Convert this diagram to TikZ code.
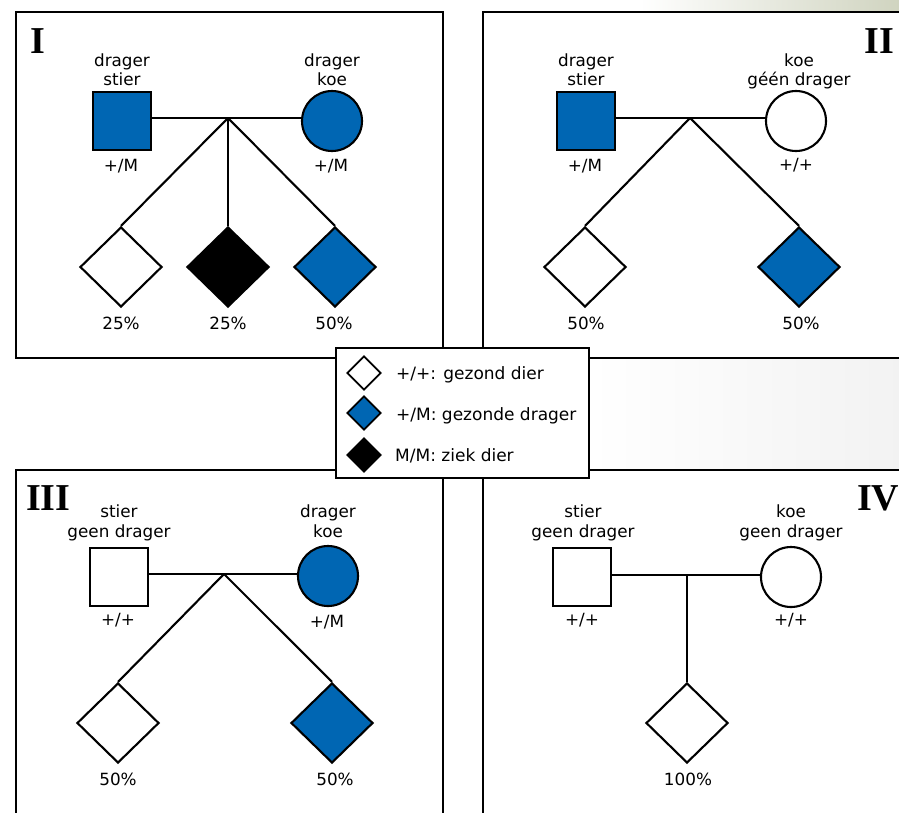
\documentclass[tikz,border=0pt]{standalone}
\usepackage{fontspec}
\usetikzlibrary{shapes.geometric}
\newfontfamily\dvsans{DejaVu Sans}
\newfontfamily\numserif{Liberation Serif}
\definecolor{cblue}{RGB}{0,102,179}
\definecolor{bgtint}{RGB}{208,212,192}
\begin{document}
\begin{tikzpicture}[x=1pt,y=-1pt,
  panel/.style={draw, line width=2.4pt},
  sq/.style={draw, rectangle, line width=2.1pt, minimum size=58pt, inner sep=0pt},
  circ/.style={draw, circle, line width=2.1pt, minimum size=60pt, inner sep=0pt},
  dia/.style={draw, diamond, line width=2.1pt, minimum width=82pt, minimum height=80pt, inner sep=0pt},
  ldia/.style={draw, diamond, line width=1.8pt, minimum width=34pt, minimum height=34pt, inner sep=0pt},
  link/.style={line width=2.1pt},
  lbl/.style={anchor=base, inner sep=0pt, font=\dvsans\fontsize{16.8}{19}\selectfont},
  legtxt/.style={anchor=base west, inner sep=0pt, font=\dvsans\fontsize{17}{20}\selectfont},
  roman/.style={inner sep=0pt, font=\numserif\bfseries\fontsize{38}{40}\selectfont}
]
\useasboundingbox (0,0) rectangle (899,812);
\clip (0,0) rectangle (899,812);
\fill[white] (0,0) rectangle (899,812);
\shade[left color=white, right color=bgtint] (640,0) rectangle (899,12);
\shade[left color=white, right color=black!5] (589,359) rectangle (899,469);

% panels
\draw[panel] (16,12) rectangle (443,358);
\draw[panel] (483,12) rectangle (915,358);
\draw[panel] (16,470) rectangle (443,830);
\draw[panel] (483,470) rectangle (915,830);

% ---------- Panel I ----------
\node[roman, anchor=base west] (nI) at (30,53) {I};
\node[sq, fill=cblue] (s1) at (122,121) {};
\node[circ, fill=cblue] (c1) at (332,121) {};
\coordinate (j1) at (228,118);
\draw[link] (s1.east |- j1) -- (c1.west |- j1);
\node[dia, fill=white] (d1a) at (121,267) {};
\node[dia, fill=black] (d1b) at (228,267) {};
\node[dia, fill=cblue] (d1c) at (335,267) {};
\draw[link] (j1) -- (d1a.north);
\draw[link] (j1) -- (d1b.north);
\draw[link] (j1) -- (d1c.north);
\node[lbl] (t1a) at (122,66.5) {drager};
\node[lbl] (t1b) at (122,85) {stier};
\node[lbl] (t1c) at (332,66.5) {drager};
\node[lbl] (t1d) at (332,85) {koe};
\node[lbl] (g1a) at (121,171) {+/M};
\node[lbl] (g1b) at (331,171) {+/M};
\node[lbl] (p1a) at (121,329) {25\%};
\node[lbl] (p1b) at (228,329) {25\%};
\node[lbl] (p1c) at (334,329) {50\%};

% ---------- Panel II ----------
\node[roman, anchor=base east] (nII) at (894,53) {II};
\node[sq, fill=cblue] (s2) at (586,121) {};
\node[circ, fill=white] (c2) at (796,121) {};
\coordinate (j2) at (690,118);
\draw[link] (s2.east |- j2) -- (c2.west |- j2);
\node[dia, fill=white] (d2a) at (585,267) {};
\node[dia, fill=cblue] (d2b) at (799,267) {};
\draw[link] (j2) -- (d2a.north);
\draw[link] (j2) -- (d2b.north);
\node[lbl] (t2a) at (586,66.5) {drager};
\node[lbl] (t2b) at (586,85) {stier};
\node[lbl] (t2c) at (799,66.5) {koe};
\node[lbl] (t2d) at (799,85) {géén drager};
\node[lbl] (g2a) at (585,171) {+/M};
\node[lbl] (g2b) at (796,170) {+/+};
\node[lbl] (p2a) at (586,329) {50\%};
\node[lbl] (p2b) at (801,329) {50\%};

% ---------- Panel III ----------
\node[roman, anchor=base west] (nIII) at (26,510) {III};
\node[sq, fill=white] (s3) at (119,577) {};
\node[circ, fill=cblue] (c3) at (328,576) {};
\coordinate (j3) at (224,574);
\draw[link] (s3.east |- j3) -- (c3.west |- j3);
\node[dia, fill=white] (d3a) at (118,723) {};
\node[dia, fill=cblue] (d3b) at (332,723) {};
\draw[link] (j3) -- (d3a.north);
\draw[link] (j3) -- (d3b.north);
\node[lbl] (t3a) at (119,517) {stier};
\node[lbl] (t3b) at (119,537) {geen drager};
\node[lbl] (t3c) at (328,517) {drager};
\node[lbl] (t3d) at (328,537) {koe};
\node[lbl] (g3a) at (118,625) {+/+};
\node[lbl] (g3b) at (327,627) {+/M};
\node[lbl] (p3a) at (118,785) {50\%};
\node[lbl] (p3b) at (335,785) {50\%};

% ---------- Panel IV ----------
\node[roman, anchor=base west] (nIV) at (857,510) {IV};
\node[sq, fill=white] (s4) at (582,577) {};
\node[circ, fill=white] (c4) at (791,577) {};
\coordinate (j4) at (687,575);
\draw[link] (s4.east |- j4) -- (c4.west |- j4);
\node[dia, fill=white] (d4) at (687,723) {};
\draw[link] (j4) -- (d4.north);
\node[lbl] (t4a) at (583,517) {stier};
\node[lbl] (t4b) at (583,537) {geen drager};
\node[lbl] (t4c) at (791,517) {koe};
\node[lbl] (t4d) at (791,537) {geen drager};
\node[lbl] (g4a) at (582,625) {+/+};
\node[lbl] (g4b) at (791,625) {+/+};
\node[lbl] (p4) at (688,785) {100\%};

% ---------- Legend ----------
\node[draw, fill=white, line width=2.4pt, minimum width=253pt, minimum height=130pt, inner sep=0pt] (leg) at (462.5,413) {};
\node[ldia, fill=white] (l1) at (364,373) {};
\node[ldia, fill=cblue] (l2) at (364,413) {};
\node[ldia, fill=black] (l3) at (364,455) {};
\node[legtxt] (lt1) at (396,379) {+/+: gezond dier};
\node[legtxt] (lt2) at (396,420) {+/M: gezonde drager};
\node[legtxt] (lt3) at (395,461) {M/M: ziek dier};
\end{tikzpicture}
\end{document}
